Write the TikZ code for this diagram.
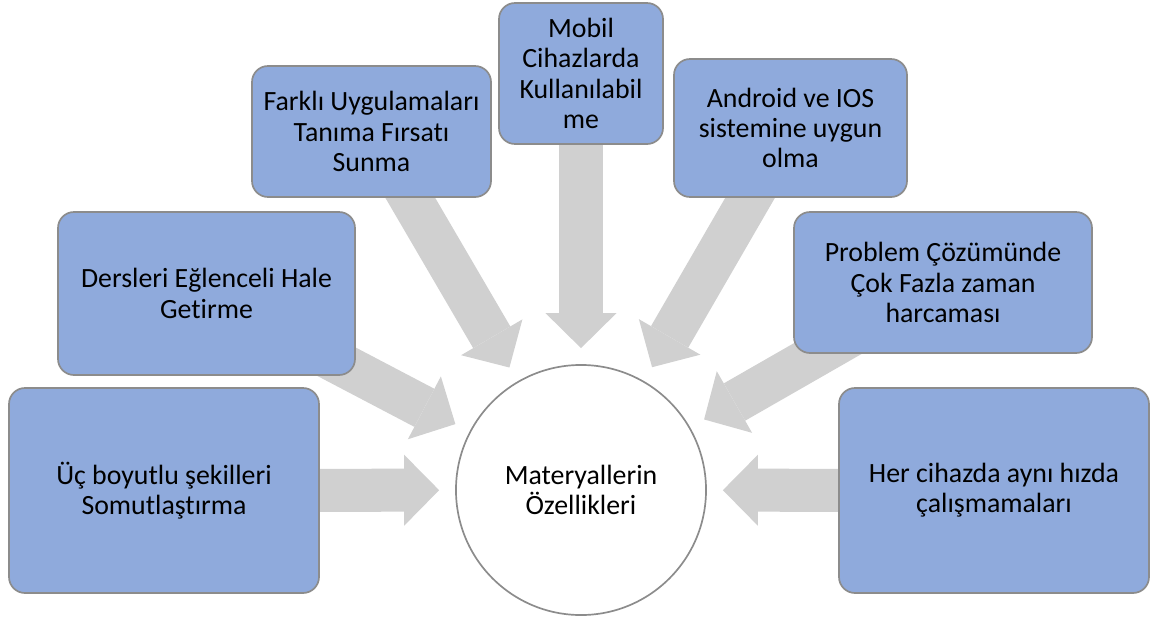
\documentclass[tikz,border=0pt]{standalone}
\usepackage{fontspec}
\setmainfont{Carlito}[Ligatures=NoCommon]
\usetikzlibrary{arrows.meta,backgrounds}

\definecolor{boxblue}{HTML}{8FAADC}
\definecolor{boxline}{HTML}{8C8C8C}
\definecolor{arrowgray}{HTML}{D0D0D0}

\begin{document}
\begin{tikzpicture}[x=0.025cm,y=-0.025cm,
    feature/.style={draw=boxline,line width=1.2pt,fill=boxblue,rounded corners=0.4cm,
        align=center,inner sep=0pt,font=\fontsize{19.8}{21.5}\selectfont},
    hub/.style={circle,draw=boxline,line width=1.2pt,fill=white,minimum size=6.25cm,
        inner sep=0pt,align=center,font=\fontsize{19.8}{21.5}\selectfont},
    bigarrow/.style={arrowgray,line width=1.075cm,shorten >=0.4cm,
        -{Triangle[width=1.775cm,length=0.875cm,line width=0pt]}}]

    \useasboundingbox (0,0) rectangle (1159,619);

    % Central circle
    \node [hub] (circ) at (581,490) {Materyallerin\\Özellikleri};

    % Feature boxes round the circle
    \foreach \nm/\cx/\cy/\w/\h/\txt in {
    boyut/164/490.5/310/205/{Üç boyutlu şekilleri\\Somutlaştırma},
    ders/206.5/293.5/297/163/{Dersleri Eğlenceli Hale\\Getirme},
    farkli/371.5/131.5/239/131/{Farklı Uygulamaları\\Tanıma Fırsatı\\Sunma},
    mobil/581/73.5/164/141/{Mobil\\Cihazlarda\\Kullanılabil\\me},
    android/790.5/128/233/138/{Android ve IOS\\sistemine uygun\\olma},
    problem/943/282.5/298/141/{Problem Çözümünde\\Çok Fazla zaman\\harcaması},
    hiz/994/490.5/310/205/{Her cihazda aynı hızda\\çalışmamaları}} {
    \node [feature,minimum width=\w*0.025cm,minimum height=\h*0.025cm] (\nm) at (\cx,\cy) {\txt};
    }

    % Block arrows pointing at the circle
    \begin{scope}[on background layer]
    \foreach \nm in {boyut,ders,farkli,mobil,android,problem,hiz} {
        \draw [bigarrow] (\nm.center) -- (circ);
    }
    \end{scope}

\end{tikzpicture}
\end{document}
